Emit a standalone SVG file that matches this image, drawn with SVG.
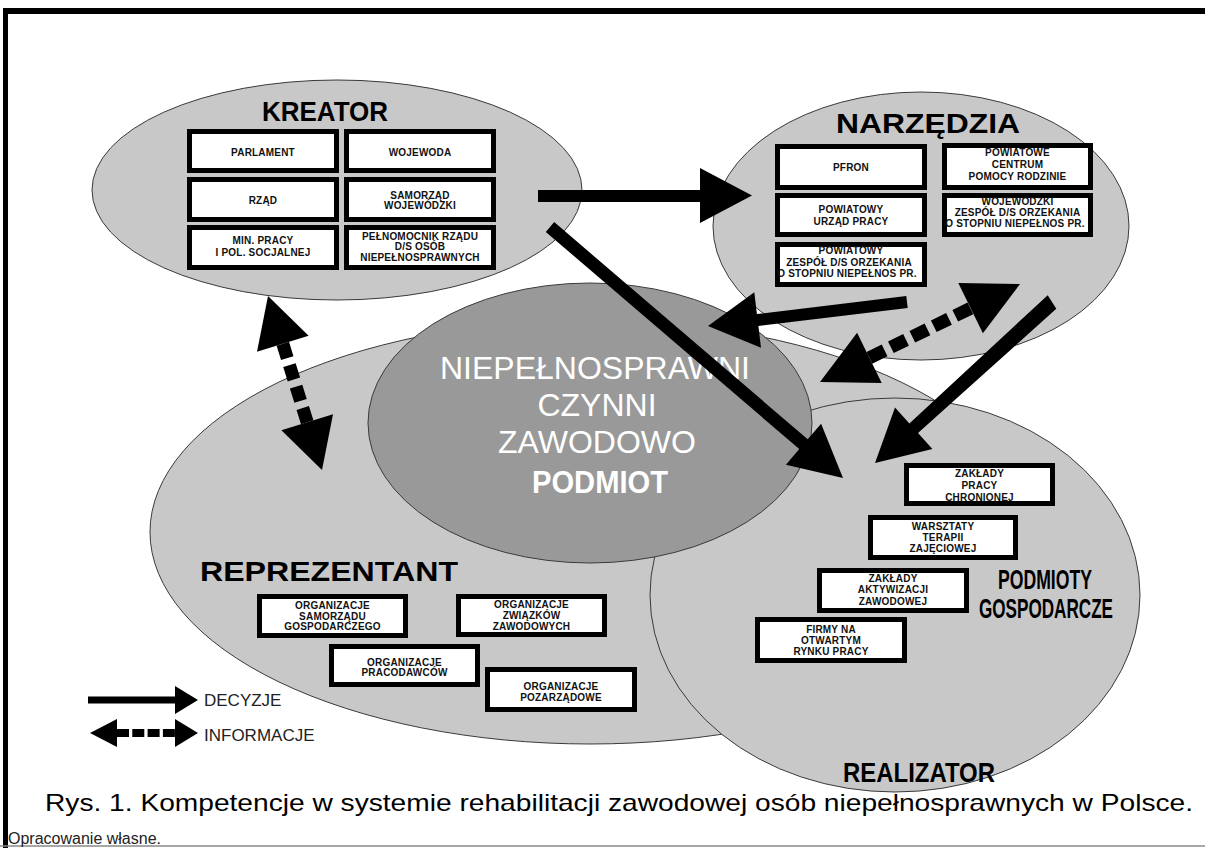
<svg xmlns="http://www.w3.org/2000/svg" width="1205" height="848" viewBox="0 0 1205 848">
<style>
.ell{stroke:#3a3a3a;stroke-width:1}
.light{fill:#c8c8c8}
.dark{fill:#999999}
.box{fill:#ffffff;stroke:#000000;stroke-width:5}
.bt{font-family:'Liberation Sans',Arial,sans-serif;font-size:10px;font-weight:bold;fill:#111111;text-anchor:middle;letter-spacing:0.2px}
.title{font-family:'Liberation Sans',Arial,sans-serif;font-weight:bold;font-size:28px;fill:#000000}
.center{font-family:'Liberation Sans',Arial,sans-serif;font-size:32px;fill:#ffffff;text-anchor:middle}
.leg{font-family:'Liberation Sans',Arial,sans-serif;font-size:17px;fill:#222222}
.arrow{fill:#000000}
.dash{fill:none;stroke:#000000}
</style>
<rect x="0" y="0" width="1205" height="848" fill="#ffffff"/>
<g id="frame">
<rect x="3" y="8" width="1202" height="6" fill="#000000"/>
<rect x="3" y="8" width="5" height="840" fill="#000000"/>
<line x1="0" y1="846" x2="1205" y2="846" stroke="#8a8a8a" stroke-width="1.5"/>
</g>

<g id="reprezentant">
<ellipse class="ell light" cx="590" cy="532" rx="440" ry="212"/>
<text class="title" x="200" y="581" textLength="258" lengthAdjust="spacingAndGlyphs">REPREZENTANT</text>
<g id="org-samorzadu">
<rect class="box" x="259.5" y="596.5" width="146" height="39"/>
<text class="bt" x="332.5" y="609">ORGANIZACJE</text>
<text class="bt" x="332.5" y="619.5">SAMORZĄDU</text>
<text class="bt" x="332.5" y="630">GOSPODARCZEGO</text>
</g>
<g id="org-zwiazkow">
<rect class="box" x="458.5" y="596.5" width="146" height="38"/>
<text class="bt" x="531.5" y="608">ORGANIZACJE</text>
<text class="bt" x="531.5" y="619">ZWIĄZKÓW</text>
<text class="bt" x="531.5" y="630">ZAWODOWYCH</text>
</g>
<g id="org-pracodawcow">
<rect class="box" x="331.5" y="646.5" width="146" height="38"/>
<text class="bt" x="404.5" y="666">ORGANIZACJE</text>
<text class="bt" x="404.5" y="676">PRACODAWCÓW</text>
</g>
<g id="org-pozarzadowe">
<rect class="box" x="487.5" y="669.5" width="147" height="40"/>
<text class="bt" x="561" y="690">ORGANIZACJE</text>
<text class="bt" x="561" y="701">POZARZĄDOWE</text>
</g>
</g>

<g id="realizator">
<ellipse class="ell light" cx="895" cy="595" rx="245" ry="197"/>
<text class="title" x="843" y="782" textLength="152" lengthAdjust="spacingAndGlyphs">REALIZATOR</text>
<text class="title" x="998" y="589" font-size="23" textLength="94" lengthAdjust="spacingAndGlyphs">PODMIOTY</text>
<text class="title" x="979" y="618" font-size="23" textLength="134" lengthAdjust="spacingAndGlyphs">GOSPODARCZE</text>
<g id="zaklady-pracy">
<rect class="box" x="906.5" y="465.5" width="146" height="38"/>
<text class="bt" x="979.5" y="477">ZAKŁADY</text>
<text class="bt" x="979.5" y="488.5">PRACY</text>
<text class="bt" x="979.5" y="500.5">CHRONIONEJ</text>
</g>
<g id="warsztaty">
<rect class="box" x="870.5" y="517.5" width="145" height="40"/>
<text class="bt" x="943" y="530">WARSZTATY</text>
<text class="bt" x="943" y="540.5">TERAPII</text>
<text class="bt" x="943" y="551.5">ZAJĘCIOWEJ</text>
</g>
<g id="zaklady-aktywizacji">
<rect class="box" x="819.5" y="570.5" width="147" height="40"/>
<text class="bt" x="893" y="581.5">ZAKŁADY</text>
<text class="bt" x="893" y="593">AKTYWIZACJI</text>
<text class="bt" x="893" y="605">ZAWODOWEJ</text>
</g>
<g id="firmy">
<rect class="box" x="757.5" y="619.5" width="147" height="41"/>
<text class="bt" x="831" y="633">FIRMY NA</text>
<text class="bt" x="831" y="644">OTWARTYM</text>
<text class="bt" x="831" y="655">RYNKU PRACY</text>
</g>
</g>

<g id="kreator">
<ellipse class="ell light" cx="337" cy="190" rx="245" ry="110"/>
<text class="title" x="262" y="121" textLength="126" lengthAdjust="spacingAndGlyphs">KREATOR</text>
<g id="parlament">
<rect class="box" x="189.5" y="131.5" width="147" height="39"/>
<text class="bt" x="263" y="155.5">PARLAMENT</text>
</g>
<g id="wojewoda">
<rect class="box" x="346.5" y="131.5" width="147" height="39"/>
<text class="bt" x="420" y="155.5">WOJEWODA</text>
</g>
<g id="rzad">
<rect class="box" x="189.5" y="179.5" width="147" height="40"/>
<text class="bt" x="263" y="204">RZĄD</text>
</g>
<g id="samorzad">
<rect class="box" x="346.5" y="179.5" width="147" height="40"/>
<text class="bt" x="420" y="199">SAMORZĄD</text>
<text class="bt" x="420" y="208.5">WOJEWÓDZKI</text>
</g>
<g id="min-pracy">
<rect class="box" x="189.5" y="227.5" width="147" height="40"/>
<text class="bt" x="263" y="244">MIN. PRACY</text>
<text class="bt" x="263" y="256">I POL. SOCJALNEJ</text>
</g>
<g id="pelnomocnik">
<rect class="box" x="346.5" y="227.5" width="147" height="40"/>
<text class="bt" x="420" y="239.5">PEŁNOMOCNIK RZĄDU</text>
<text class="bt" x="420" y="250">D/S OSÓB</text>
<text class="bt" x="420" y="260.5">NIEPEŁNOSPRAWNYCH</text>
</g>
</g>

<g id="narzedzia">
<ellipse class="ell light" cx="921" cy="226" rx="208" ry="134"/>
<text class="title" x="836" y="133" textLength="184" lengthAdjust="spacingAndGlyphs">NARZĘDZIA</text>
<g id="pfron">
<rect class="box" x="777.5" y="146.5" width="147" height="41"/>
<text class="bt" x="851" y="171">PFRON</text>
</g>
<g id="pcpr">
<rect class="box" x="944.5" y="145.5" width="146" height="42"/>
<text class="bt" x="1017.5" y="156">POWIATOWE</text>
<text class="bt" x="1017.5" y="167.5">CENTRUM</text>
<text class="bt" x="1017.5" y="179.5">POMOCY RODZINIE</text>
</g>
<g id="pup">
<rect class="box" x="777.5" y="195.5" width="147" height="39"/>
<text class="bt" x="851" y="213">POWIATOWY</text>
<text class="bt" x="851" y="225">URZĄD PRACY</text>
</g>
<g id="wojewodzki-zespol">
<rect class="box" x="944.5" y="195.5" width="146" height="39"/>
<text class="bt" x="1017.5" y="205">WOJEWÓDZKI</text>
<text class="bt" x="1017.5" y="216">ZESPÓŁ D/S ORZEKANIA</text>
<text class="bt" x="1015" y="227">O STOPNIU NIEPEŁNOS PR.</text>
</g>
<g id="powiatowy-zespol">
<rect class="box" x="777.5" y="244.5" width="147" height="40"/>
<text class="bt" x="851" y="253.5">POWIATOWY</text>
<text class="bt" x="849" y="265.5">ZESPÓŁ D/S ORZEKANIA</text>
<text class="bt" x="847" y="277">O STOPNIU NIEPEŁNOS PR.</text>
</g>
</g>

<g id="podmiot">
<ellipse class="ell dark" cx="590" cy="423" rx="222" ry="140"/>
<text class="center" x="595" y="379">NIEPEŁNOSPRAWNI</text>
<text class="center" x="597" y="416">CZYNNI</text>
<text class="center" x="597" y="453">ZAWODOWO</text>
<text class="center" x="600" y="493" font-weight="bold" font-size="29" textLength="136" lengthAdjust="spacingAndGlyphs">PODMIOT</text>
</g>

<g id="connectors">
<polygon class="arrow" points="538,190 700,190 700,168 752,195.5 700,223 700,202 538,202"/>
<polygon class="arrow" points="554.2,222.1 807.7,439.3 821.1,423.7 843,478 785.9,464.7 799.3,449.1 545.8,231.9"/>
<polygon class="arrow" points="907.7,308 758.4,326 761,347.8 708,326 754.3,292.2 756.9,314 906.3,296"/>
<polygon class="arrow" points="1056.3,308.8 918,433.1 932.4,449.1 875,463 895,407.5 909.4,423.5 1047.7,295.2"/>
<polygon class="arrow" points="820,382 881.7,382.9 857.1,332.7"/>
<polygon class="arrow" points="1020,284 982.9,333.3 958.3,283.1"/>
<line class="dash" x1="869.4" y1="357.8" x2="970.6" y2="308.2" stroke-width="13" stroke-dasharray="16.9 7"/>
<polygon class="arrow" points="268,296 308.6,335.8 257,351.8"/>
<polygon class="arrow" points="322,470 333,414.3 281.4,430.3"/>
<line class="dash" x1="282.8" y1="343.8" x2="307.2" y2="422.3" stroke-width="13" stroke-dasharray="15 7.4"/>
</g>

<g id="legend">
<polygon class="arrow" points="88,696.5 175,696.5 175,686 198,700 175,714 175,703.5 88,703.5"/>
<text class="leg" x="204" y="706">DECYZJE</text>
<polygon class="arrow" points="90,733 117,719 117,747"/>
<polygon class="arrow" points="198,733 175,719 175,747"/>
<line class="dash" x1="117" y1="733" x2="175" y2="733" stroke-width="8" stroke-dasharray="12 3.3"/>
<text class="leg" x="204" y="741">INFORMACJE</text>
</g>

<g id="caption">
<text x="45" y="811" font-family="'Liberation Sans',Arial,sans-serif" font-size="24" fill="#000000" textLength="1148" lengthAdjust="spacingAndGlyphs">Rys. 1. Kompetencje w systemie rehabilitacji zawodowej osób niepełnosprawnych w Polsce.</text>
<text x="8" y="844" font-family="'Liberation Sans',Arial,sans-serif" font-size="16" fill="#222222">Opracowanie własne.</text>
</g>
</svg>
